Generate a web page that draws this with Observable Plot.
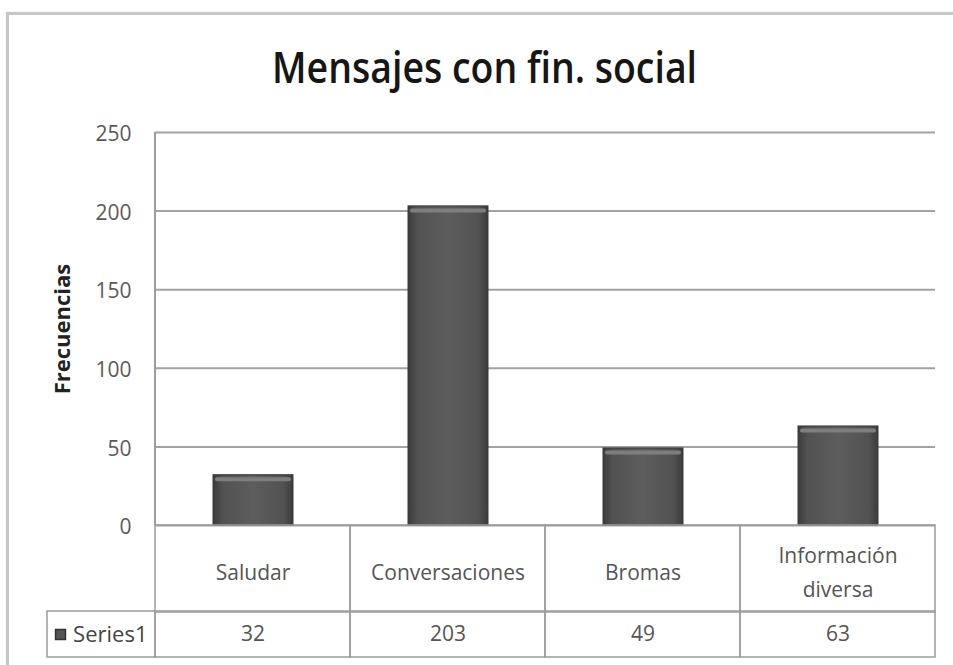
<!DOCTYPE html>
<html>
<head>
<meta charset="utf-8">
<script src="https://cdn.jsdelivr.net/npm/d3@7"></script>
<script src="https://cdn.jsdelivr.net/npm/@observablehq/plot@0.6"></script>
<style>
  html, body { margin: 0; padding: 0; background: #fff; }
  #root { position: relative; width: 953px; height: 665px; overflow: hidden; background: #fff; font-family: "Open Sans", sans-serif; }
  #border { position: absolute; left: 6px; top: 12px; width: 980px; height: 720px; border: 3px solid #c6c6c6; box-sizing: border-box; box-shadow: 0 0 1px #d0d0d0; }
  #title { position: absolute; top: 44px; left: 0; font-family: "Open Sans", sans-serif; font-weight: 600; font-size: 44px; line-height: 1; color: #161616; white-space: nowrap; transform-origin: center center; }
  .layer { position: absolute; left: 0; }
</style>
</head>
<body>
<div id="root">
  <div id="border"></div>
  <div id="title"></div>
</div>
<script>
// ---- data ----
const titleText = "Mensajes con fin. social";
const yLabel = "Frecuencias";
const seriesName = "Series1";
const categories = ["Saludar", "Conversaciones", "Bromas", "Información diversa"];
const categoryLabels = ["Saludar", "Conversaciones", "Bromas", "Información\ndiversa"];
const values = [32, 203, 49, 63];
const yTicks = [0, 50, 100, 150, 200, 250];

const rows = categories.map((c, i) => ({cat: c, label: categoryLabels[i], value: values[i]}));

const root = document.getElementById("root");
const W = 953;
const mL = 155, mR = 18;
const font = "Open Sans, sans-serif";

// ---- title ----
const t = document.getElementById("title");
t.textContent = titleText;
const tw = t.getBoundingClientRect().width;
t.style.left = (485 - tw / 2) + "px";
t.style.transform = `scaleX(${425 / tw})`;

// ---- main chart ----
const gradient = () => {
  const defs = d3.create("svg:defs");
  const g = defs.append("linearGradient").attr("id", "barGrad")
    .attr("x1", "0").attr("x2", "1").attr("y1", "0").attr("y2", "0");
  [[0, "#3c3c3c"], [0.12, "#525252"], [0.5, "#5d5d5d"], [0.88, "#525252"], [1, "#3c3c3c"]]
    .forEach(([o, c]) => g.append("stop").attr("offset", o).attr("stop-color", c));
  return defs.node();
};

const yAxisLine = (index, scales, values, dims) => {
  return d3.create("svg:line")
    .attr("x1", dims.marginLeft).attr("x2", dims.marginLeft)
    .attr("y1", scales.y(d3.max(yTicks))).attr("y2", scales.y(0))
    .attr("stroke", "#9c9c9c").attr("stroke-width", 2).node();
};

const main = Plot.plot({
  width: W,
  height: 540,
  marginTop: 132,
  marginBottom: 15,
  marginLeft: mL,
  marginRight: mR,
  style: {background: "transparent", fontFamily: font, overflow: "visible"},
  x: {domain: categories, paddingInner: 0.59, paddingOuter: 0.295, axis: null},
  y: {domain: [0, d3.max(yTicks)]},
  marks: [
    gradient,
    Plot.ruleY(yTicks, {stroke: "#a2a2a2", strokeWidth: 2}),
    yAxisLine,
    Plot.axisY({ticks: yTicks, tickSize: 0, tickPadding: 24, fontSize: 21, color: "#5a5a5a", label: null, dy: 2}),
    Plot.text([yLabel], {frameAnchor: "left", textAnchor: "middle", rotate: -90, dx: -93, fontSize: 22, fontWeight: "bold", fill: "#222"}),
    Plot.barY(rows, {x: "cat", y: "value", fill: "url(#barGrad)", stroke: "#3a3a3a", strokeWidth: 1}),
    Plot.tickY(rows, {x: "cat", y: "value", stroke: "#7e7e7e", strokeWidth: 4, dy: 4, insetLeft: 4, insetRight: 4, strokeLinecap: "round"})
  ]
});
main.classList.add("layer");
main.style.top = "0px";
root.appendChild(main);

// ---- data table: category row ----
const catRow = Plot.plot({
  width: W,
  height: 91,
  marginTop: 2,
  marginBottom: 2,
  marginLeft: mL,
  marginRight: mR,
  style: {background: "transparent", fontFamily: font, overflow: "visible"},
  x: {domain: categories, padding: 0, axis: null},
  marks: [
    Plot.cell(rows, {x: "cat", fill: "none", stroke: "#9c9c9c", strokeWidth: 1.5}),
    Plot.text(rows, {x: "cat", text: "label", fontSize: 21, fill: "#555", lineHeight: 1.62})
  ]
});
catRow.classList.add("layer");
catRow.style.top = "523px";
root.appendChild(catRow);

// ---- data table: values row ----
const headerCell = (index, scales, values, dims) => {
  return d3.create("svg:rect")
    .attr("x", 47).attr("y", dims.marginTop)
    .attr("width", dims.marginLeft - 47)
    .attr("height", dims.height - dims.marginTop - dims.marginBottom)
    .attr("fill", "none").attr("stroke", "#9c9c9c").attr("stroke-width", 1.5).node();
};

const valRow = Plot.plot({
  width: W,
  height: 50,
  marginTop: 2,
  marginBottom: 2,
  marginLeft: mL,
  marginRight: mR,
  style: {background: "transparent", fontFamily: font, overflow: "visible"},
  x: {domain: categories, padding: 0, axis: null},
  marks: [
    headerCell,
    Plot.cell(rows, {x: "cat", fill: "none", stroke: "#9c9c9c", strokeWidth: 1.5}),
    Plot.text(rows, {x: "cat", text: d => String(d.value), fontSize: 21, fill: "#555"}),
    Plot.dot([seriesName], {x: null, y: null, frameAnchor: "left", dx: -95, symbol: "square", r: 5.6, fill: "#555", stroke: "#333"}),
    Plot.text([seriesName], {frameAnchor: "left", dx: -8, textAnchor: "end", fontSize: 22, fill: "#444"})
  ]
});
valRow.classList.add("layer");
valRow.style.top = "609px";
root.appendChild(valRow);
</script>
</body>
</html>
